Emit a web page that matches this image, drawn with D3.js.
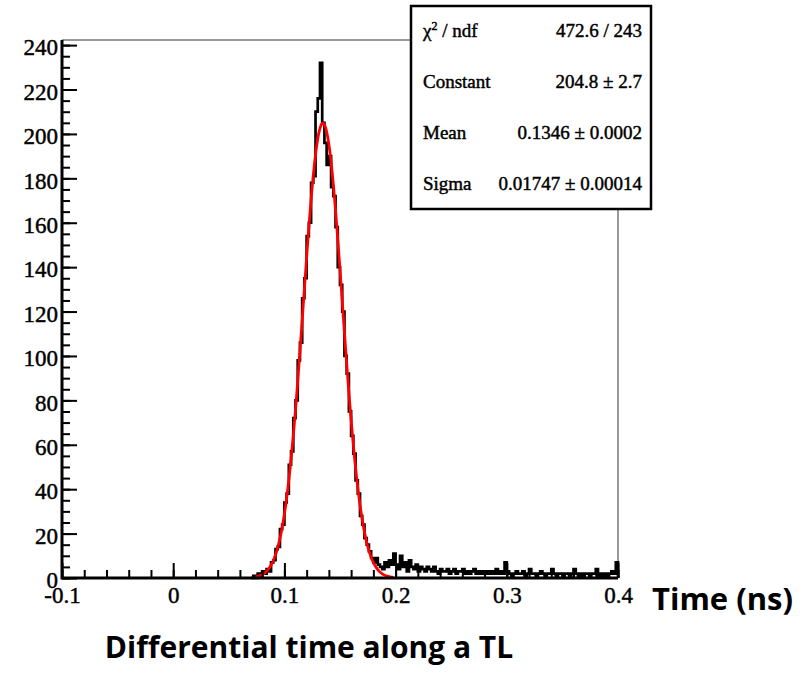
<!DOCTYPE html>
<html>
<head>
<meta charset="utf-8">
<script src="https://cdn.jsdelivr.net/npm/d3@7"></script>
<style>
  body { margin: 0; background: #fff; }
  .serif { font-family: "Liberation Serif", "DejaVu Serif", serif; stroke: #000; stroke-width: 0.45px; }
  .sans { font-family: "Open Sans", "Liberation Sans", sans-serif; font-weight: 700; }
</style>
</head>
<body>
<script>
/*global d3*/

var width = 803, height = 676;

// histogram: bin width and first bin low edge (ns)
var binWidth = 0.002;
var binStart = 0.070;
var counts = [
  0, 1, 0, 2, 1, 3, 2, 4, 3, 7,
  8, 13, 14, 22, 24, 34, 38, 51, 57, 72,
  80, 98, 106, 126, 135, 154, 160, 178, 181, 210,
  216, 232, 205, 196, 186, 190, 176, 172, 158, 140,
  132, 120, 100, 92, 75, 64, 56, 44, 38, 28,
  24, 18, 15, 12, 9, 7, 9, 6, 5, 4,
  7, 5, 8, 6, 11, 6, 4, 10, 5, 7,
  3, 8, 5, 4, 6, 3, 5, 4, 3, 5,
  4, 3, 5, 3, 2, 4, 3, 3, 4, 2,
  3, 4, 2, 3, 3, 4, 2, 3, 2, 3,
  4, 2, 3, 2, 3, 2, 3, 2, 3, 2,
  4, 2, 3, 2, 7, 3, 2, 1, 2, 3,
  2, 2, 3, 1, 2, 4, 2, 2, 1, 2,
  3, 2, 1, 2, 2, 4, 2, 1, 2, 2,
  1, 2, 2, 1, 2, 4, 2, 1, 2, 1,
  2, 2, 1, 2, 2, 4, 1, 2, 1, 2,
  1, 2, 3, 2, 7
];

// gaussian fit parameters (from the stats box) and fit range
var fitConstant = 204.8;
var fitMean = 0.1346;
var fitSigma = 0.01747;
var fitRange = [0.074, 0.198];

// stats box rows
var statNames = ["χ2 / ndf", "Constant", "Mean", "Sigma"];
var statValues = ["472.6 / 243", "204.8 ± 2.7", "0.1346 ± 0.0002", "0.01747 ± 0.00014"];

var xTicks = [-0.1, 0, 0.1, 0.2, 0.3, 0.4];
var xTickLabels = ["-0.1", "0", "0.1", "0.2", "0.3", "0.4"];
var yTicks = [0, 20, 40, 60, 80, 100, 120, 140, 160, 180, 200, 220, 240];

var svg = d3.select("body").append("svg")
    .attr("width", width)
    .attr("height", height);

var x = d3.scaleLinear().domain([-0.1, 0.4]).range([62, 618]);
var y = d3.scaleLinear().domain([0, 242.3]).range([578, 40]);

// frame (top and right, thin)
svg.append("path")
    .attr("d", "M" + x(-0.1) + "," + y.range()[1] + "H" + x(0.4) + "V" + y(0))
    .attr("fill", "none")
    .attr("stroke", "#777")
    .attr("stroke-width", 1.5);

// histogram outline
var pts = [[binStart, 0]];
counts.forEach(function (c, i) { pts.push([binStart + i * binWidth, c]); });
var binEnd = binStart + counts.length * binWidth;
pts.push([binEnd, counts[counts.length - 1]]);
pts.push([binEnd, 0]);

var stepLine = d3.line()
    .x(function (d) { return x(d[0]); })
    .y(function (d) { return y(d[1]); })
    .curve(d3.curveStepAfter);

svg.append("path")
    .attr("d", stepLine(pts))
    .attr("fill", "none")
    .attr("stroke", "#000")
    .attr("stroke-width", 2.7);

// fit curve
var fitPts = d3.range(fitRange[0], fitRange[1] + 1e-9, 0.0005).map(function (t) {
  var z = (t - fitMean) / fitSigma;
  return [t, fitConstant * Math.exp(-0.5 * z * z)];
});
svg.append("path")
    .attr("d", d3.line().x(function (d) { return x(d[0]); }).y(function (d) { return y(d[1]); })(fitPts))
    .attr("fill", "none")
    .attr("stroke", "#ff0000")
    .attr("stroke-width", 2.8);

// axes
var yAxisMinor = d3.axisLeft(y).tickValues(d3.range(0, 241, 5)).tickSize(-8).tickFormat("");
var yAxis = d3.axisLeft(y).tickValues(yTicks).tickSize(-15).tickPadding(4);
var xAxisMinor = d3.axisBottom(x).tickValues(d3.range(-0.1, 0.401, 0.02)).tickSize(-8).tickFormat("");
var xAxis = d3.axisBottom(x).tickValues(xTicks).tickSize(-15).tickPadding(9)
    .tickFormat(function (d, i) { return xTickLabels[i]; });

[[yAxisMinor, true], [yAxis, true], [xAxisMinor, false], [xAxis, false]].forEach(function (a) {
  var g = svg.append("g")
      .attr("transform", a[1] ? "translate(" + x(-0.1) + ",0)" : "translate(0," + y(0) + ")")
      .call(a[0]);
  g.select(".domain").remove();
  g.selectAll("line").attr("stroke", "#000").attr("stroke-width", 2);
  g.selectAll("text").attr("class", "serif").attr("font-size", 23).attr("fill", "#000")
      .attr("font-family", null);
  if (a[1]) g.selectAll("text").attr("dy", "0.42em");
});

// thick left and bottom axis lines
svg.append("path")
    .attr("d", "M" + x(-0.1) + "," + y.range()[1] + "V" + y(0) + "H" + x(0.4))
    .attr("fill", "none")
    .attr("stroke", "#000")
    .attr("stroke-width", 3);

// stats box
var box = svg.append("g");
box.append("rect")
    .attr("x", 411).attr("y", 6)
    .attr("width", 240).attr("height", 203)
    .attr("fill", "#fff")
    .attr("stroke", "#000")
    .attr("stroke-width", 2.5);

var rowY = [37, 88, 139, 190];
statNames.forEach(function (name, i) {
  var t = box.append("text")
      .attr("class", "serif")
      .attr("x", 423).attr("y", rowY[i])
      .attr("font-size", 19);
  if (i === 0) {
    t.append("tspan").text("χ");
    t.append("tspan").attr("font-size", 12).attr("dy", -7).text("2");
    t.append("tspan").attr("dy", 7).text(" / ndf");
  } else {
    t.text(name);
  }
  box.append("text")
      .attr("class", "serif")
      .attr("x", 642).attr("y", rowY[i])
      .attr("text-anchor", "end")
      .attr("font-size", 19)
      .text(statValues[i]);
});

// captions
svg.append("text")
    .attr("class", "sans")
    .attr("x", 652).attr("y", 610)
    .attr("font-size", 31)
    .text("Time (ns)");

svg.append("text")
    .attr("class", "sans")
    .attr("x", 309).attr("y", 658)
    .attr("text-anchor", "middle")
    .attr("font-size", 30)
    .text("Differential time along a TL");
</script>
</body>
</html>
